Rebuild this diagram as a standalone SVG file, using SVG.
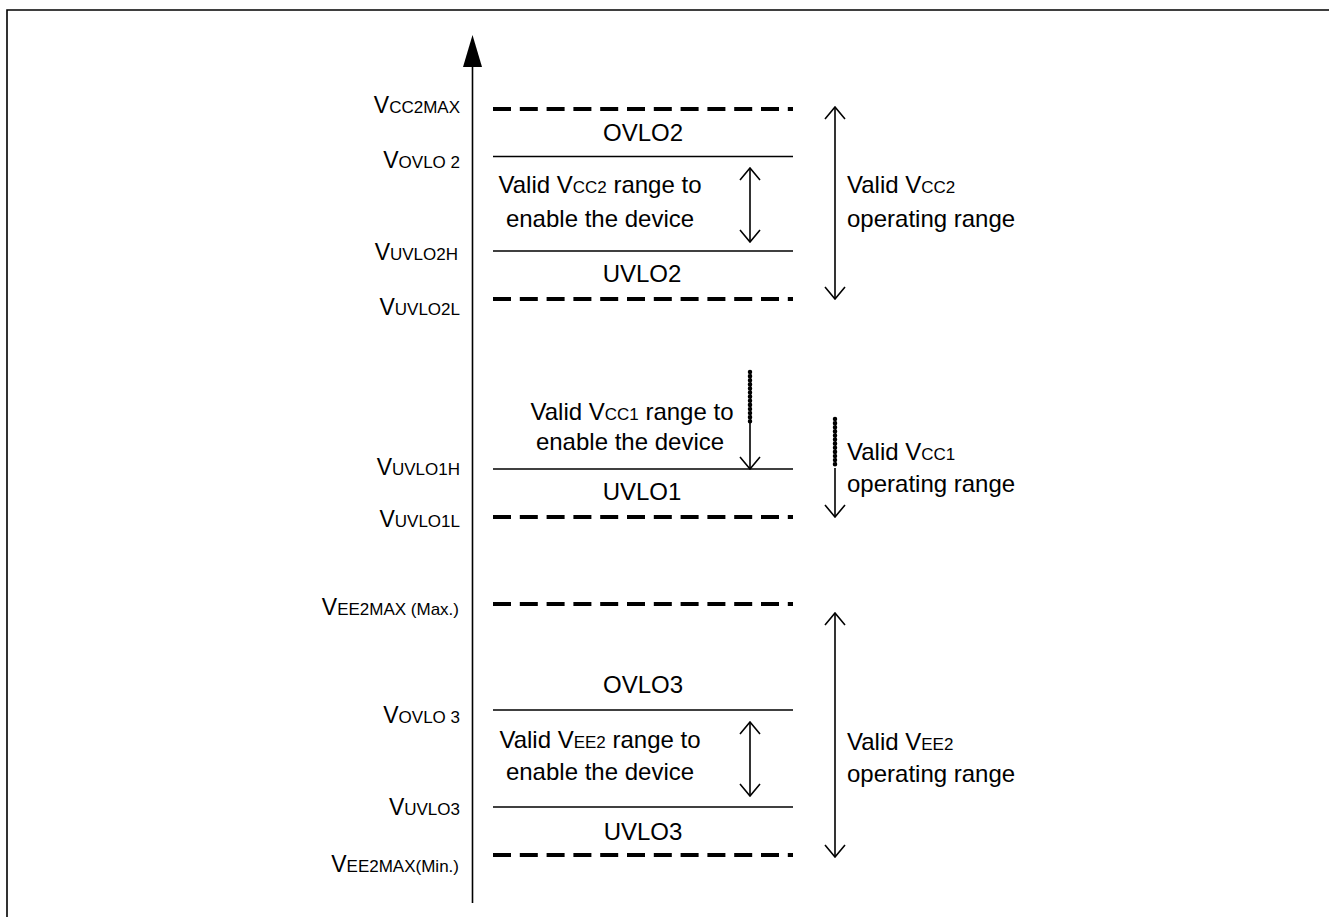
<svg xmlns="http://www.w3.org/2000/svg" width="1329" height="918" viewBox="0 0 1329 918">
<style>
text{font-family:"Liberation Sans",Arial,sans-serif;fill:#000}
.m{font-size:24px}
.l{font-size:23px;text-anchor:end}
.c{text-anchor:middle}
.s{font-size:17px}
.xs{font-size:17px}
.dash{stroke:#000;stroke-width:4.2;stroke-dasharray:18 8.8;fill:none}
.sol{stroke:#000;stroke-width:1.6;fill:none}
.arr{stroke:#000;stroke-width:1.6;fill:none;marker-end:url(#oh)}
.arr2{stroke:#000;stroke-width:1.6;fill:none;marker-start:url(#oh);marker-end:url(#oh)}
.dot{stroke:#000;stroke-width:4.5;stroke-linecap:round;stroke-dasharray:0.1 4;fill:none}
</style>
<defs>
<marker id="oh" viewBox="0 0 14 22" refX="13" refY="11" markerWidth="14" markerHeight="22" markerUnits="userSpaceOnUse" orient="auto-start-reverse">
<path d="M1,1 L13,11 L1,21" fill="none" stroke="#000" stroke-width="1.6"/>
</marker>
</defs>
<rect width="1329" height="918" fill="#fff"/>
<g id="frame"><path d="M7,917 L7,10 L1329,10" class="sol" stroke-width="1.8"/></g>
<g id="connectors">
<line x1="472.5" y1="903" x2="472.5" y2="62" class="sol" stroke-width="2"/>
<polygon points="472.5,35 463,67 482,67" fill="#000"/>
<line x1="493" y1="109" x2="793" y2="109" class="dash"/>
<line x1="493" y1="156.5" x2="793" y2="156.5" class="sol"/>
<line x1="493" y1="251" x2="793" y2="251" class="sol"/>
<line x1="493" y1="299" x2="793" y2="299" class="dash"/>
<line x1="750" y1="168" x2="750" y2="242" class="arr2"/>
<line x1="835" y1="107" x2="835" y2="299" class="arr2"/>
<line x1="493" y1="469" x2="793" y2="469" class="sol"/>
<line x1="493" y1="517" x2="793" y2="517" class="dash"/>
<line x1="750" y1="372" x2="750" y2="422" class="dot"/>
<line x1="750" y1="422" x2="750" y2="469" class="arr"/>
<line x1="835" y1="419" x2="835" y2="468" class="dot"/>
<line x1="835" y1="468" x2="835" y2="517" class="arr"/>
<line x1="493" y1="604" x2="793" y2="604" class="dash"/>
<line x1="493" y1="710" x2="793" y2="710" class="sol"/>
<line x1="493" y1="807" x2="793" y2="807" class="sol"/>
<line x1="493" y1="855" x2="793" y2="855" class="dash"/>
<line x1="750" y1="722" x2="750" y2="796" class="arr2"/>
<line x1="835" y1="613" x2="835" y2="857" class="arr2"/>
</g>
<g id="vcc2-labels">
<text class="l" x="460" y="113">V<tspan class="s">CC2MAX</tspan></text>
<text class="l" x="460" y="168">V<tspan class="s">OVLO 2</tspan></text>
<text class="l" x="458" y="260">V<tspan class="s">UVLO2H</tspan></text>
<text class="l" x="460" y="315">V<tspan class="s">UVLO2L</tspan></text>
</g>
<g id="vcc2-zones">
<text class="m c" x="643" y="141">OVLO2</text>
<text class="m c" x="600" y="193">Valid V<tspan class="s">CC2</tspan> range to</text>
<text class="m c" x="600" y="227">enable the device</text>
<text class="m c" x="642" y="282">UVLO2</text>
</g>
<g id="vcc2-range">
<text class="m" x="847" y="193">Valid V<tspan class="s">CC2</tspan></text>
<text class="m" x="847" y="227">operating range</text>
</g>
<g id="vcc1-labels">
<text class="l" x="460" y="475">V<tspan class="s">UVLO1H</tspan></text>
<text class="l" x="460" y="527">V<tspan class="s">UVLO1L</tspan></text>
</g>
<g id="vcc1-zones">
<text class="m c" x="632" y="420">Valid V<tspan class="s">CC1</tspan> range to</text>
<text class="m c" x="630" y="450">enable the device</text>
<text class="m c" x="642" y="500">UVLO1</text>
</g>
<g id="vcc1-range">
<text class="m" x="847" y="460">Valid V<tspan class="s">CC1</tspan></text>
<text class="m" x="847" y="492">operating range</text>
</g>
<g id="vee2-labels">
<text class="l" x="459" y="615">V<tspan class="s">EE2MAX</tspan><tspan class="xs"> (Max.)</tspan></text>
<text class="l" x="460" y="723">V<tspan class="s">OVLO 3</tspan></text>
<text class="l" x="460" y="815">V<tspan class="s">UVLO3</tspan></text>
<text class="l" x="459" y="872">V<tspan class="s">EE2MAX</tspan><tspan class="xs">(Min.)</tspan></text>
</g>
<g id="vee2-zones">
<text class="m c" x="643" y="693">OVLO3</text>
<text class="m c" x="600" y="748">Valid V<tspan class="s">EE2</tspan> range to</text>
<text class="m c" x="600" y="780">enable the device</text>
<text class="m c" x="643" y="840">UVLO3</text>
</g>
<g id="vee2-range">
<text class="m" x="847" y="750">Valid V<tspan class="s">EE2</tspan></text>
<text class="m" x="847" y="782">operating range</text>
</g>
</svg>
